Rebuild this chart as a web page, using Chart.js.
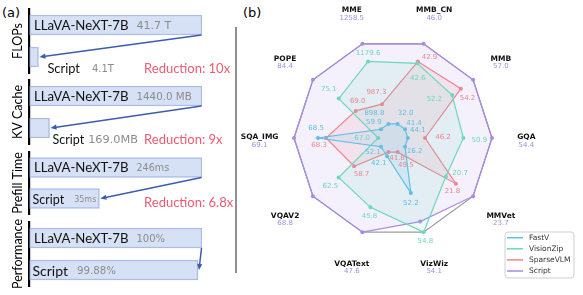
<!DOCTYPE html>
<html><head><meta charset="utf-8">
<script src="https://cdn.jsdelivr.net/npm/chart.js"></script>
<style>
html,body{margin:0;padding:0;background:#fff;}
#wrap{position:relative;width:583px;height:295px;overflow:hidden;background:#fff;}
canvas{position:absolute;}
.pl{position:absolute;font-family:'DejaVu Sans';font-size:13px;line-height:14px;color:#000;}
#divider{position:absolute;left:235px;top:27px;width:2px;height:246px;background:#8f8f8f;}
</style></head>
<body><div id="wrap">
<div class="pl" style="left:2px;top:6px">(a)</div>
<div class="pl" style="left:243px;top:6px">(b)</div>
<div id="divider"></div>
<canvas id="radar" width="343" height="295" style="left:240px;top:0px"></canvas>
</div>
<script>
// ---------- Panel (a) data ----------
const metricNames = ['FLOPs', 'KV Cache', 'Prefill Time', 'Performance'];
const barCategories = ['LLaVA-NeXT-7B', 'Script'];
const baselineBarLength = [100, 100, 100, 100];          // drawn length (schematic, as in picture)
const scriptBarLength = [5.2, 11.6, 40.5, 97.7];          // drawn length (schematic, as in picture)
const baselineValueLabels = ['41.7 T', '1440.0 MB', '246ms', '100%'];
const scriptValueLabels = ['4.1T', '169.0MB', '35ms', '99.88%'];
const reductionLabels = ['Reduction: 10x', 'Reduction: 9x', 'Reduction: 6.8x', ''];

// ---------- Panel (b) data ----------
const radarAxes = ['MME', 'MMB_CN', 'MMB', 'GQA', 'MMVet', 'VizWiz', 'VQAText', 'VQAV2', 'SQA_IMG', 'POPE'];
const seriesNames = ['FastV', 'VisionZip', 'SparseVLM', 'Script'];
const fastV     = [898.8, 32.0, 41.4, 44.1, 16.2, 52.2, 42.1, 52.1, 68.5, 59.9];
const visionZip = [1179.6, 42.6, 52.2, 50.9, 20.7, 54.8, 45.8, 62.5, 67.0, 75.1];
const sparseVLM = [987.3, 42.9, 54.2, 46.2, 21.8, 49.5, 41.8, 58.7, 68.3, 69.0];
const scriptVals = [1258.5, 46.0, 57.0, 54.4, 23.7, 54.1, 47.6, 68.8, 69.1, 84.4];

// ---------- styles ----------
const sectionTop = [9, 80, 152, 222];
const sectionHeight = [64, 64, 62, 64];
const scriptNameSize = [12.8, 12.5, 12.5, 14];
const scriptOutsideGap = [9, 3, 6, 6];
const scriptValueGap = [12, 4, 10, 9];
const baselineValueSize = [11, 10.3, 9.6, 10];
const scriptValueSize = [10, 11.3, 8, 10.2];
const seriesColors = ['#5fbfe6', '#6cd9bb', '#ee8590', '#a68ae6'];
const seriesFills = ['rgba(95,191,230,0.13)', 'rgba(108,217,187,0.12)', 'rgba(238,133,144,0.13)', 'rgba(166,138,230,0.12)'];
const valueLabelOffsets = [
  [[-14,-11],[8,-11],[9,-6.5],[10,-8],[9.6,4.2],[0,10.6],[-8.3,7],[-8,5.5],[-2,-9.7],[-7.2,-7.5]],
  [[0,-8.3],[0.6,15],[-17.7,4],[16,2.4],[14.3,-3.3],[1.7,9],[-1,9.3],[-8.3,8.3],[-16,0],[-10,-9]],
  [[-5.6,-12.3],[11.7,-4.5],[6.6,9.3],[18,-1],[-3.4,7.7],[8.3,13.3],[8.6,6.1],[7.4,8.3],[-7,7.4],[2,-10]]
];

// ---------- mini bar charts ----------
const arrowColor = '#3b5cb0';
const miniPlugin = {
  id: 'mini',
  afterDatasetsDraw(chart, args, opts) {
    const k = opts.index;
    const ctx = chart.ctx;
    const bars = chart.getDatasetMeta(0).data;
    const b1 = bars[0], b2 = bars[1];
    const left = b1.base;
    ctx.save();
    ctx.textBaseline = 'middle'; ctx.textAlign = 'left';
    ctx.font = '13.2px Lato'; ctx.fillStyle = '#111';
    ctx.fillText(barCategories[0], left + 4.5, b1.y + 0.5);
    const w = ctx.measureText(barCategories[0]).width;
    ctx.font = baselineValueSize[k] + 'px "DejaVu Sans"'; ctx.fillStyle = '#8c8c8c';
    ctx.fillText(baselineValueLabels[k], left + 4.5 + w + 8, b1.y + 1);

    ctx.font = scriptNameSize[k] + 'px Lato';
    const sw = ctx.measureText(barCategories[1]).width;
    const inside = sw + 12 < (b2.x - b2.base);
    const sx = inside ? b2.base + 3 : b2.x + scriptOutsideGap[k];
    const sy = inside ? b2.y + 1 : b2.y + b2.height / 2 + 1.5;
    ctx.fillStyle = '#111';
    ctx.fillText(barCategories[1], sx, sy);
    ctx.font = scriptValueSize[k] + 'px "DejaVu Sans"'; ctx.fillStyle = '#8c8c8c';
    ctx.fillText(scriptValueLabels[k], sx + sw + scriptValueGap[k], sy + 0.5);
    if (reductionLabels[k]) {
      ctx.font = '13px Lato'; ctx.fillStyle = '#ef5a72';
      ctx.fillText(reductionLabels[k], chart.scales.x.getPixelForValue(66.4), inside ? b2.y + 4 : sy);
    }
    // arrow
    const x0 = b1.x - 0.5, y0 = b1.y + b1.height / 2;
    const x1 = b2.x + 1, y1 = b2.y;
    const ang = Math.atan2(y1 - y0, x1 - x0);
    ctx.strokeStyle = arrowColor; ctx.fillStyle = arrowColor; ctx.lineWidth = 1.5;
    ctx.beginPath(); ctx.moveTo(x0, y0);
    ctx.lineTo(x1 - 4 * Math.cos(ang), y1 - 4 * Math.sin(ang)); ctx.stroke();
    ctx.beginPath();
    ctx.moveTo(x1, y1);
    ctx.lineTo(x1 - 6 * Math.cos(ang) + 2.6 * Math.sin(ang), y1 - 6 * Math.sin(ang) - 2.6 * Math.cos(ang));
    ctx.lineTo(x1 - 6 * Math.cos(ang) - 2.6 * Math.sin(ang), y1 - 6 * Math.sin(ang) + 2.6 * Math.cos(ang));
    ctx.closePath(); ctx.fill();
    ctx.restore();
  }
};

const wrap = document.getElementById('wrap');
metricNames.forEach((name, k) => {
  const cv = document.createElement('canvas');
  cv.width = 237; cv.height = sectionHeight[k] + 16;
  cv.style.left = '0px'; cv.style.top = (sectionTop[k] - 8) + 'px';
  wrap.appendChild(cv);
  new Chart(cv, {
    type: 'bar',
    data: {
      labels: barCategories,
      datasets: [{
        data: [baselineBarLength[k], scriptBarLength[k]],
        backgroundColor: '#d7e1f5', borderColor: '#a9bde8', borderWidth: 1.5,
        barThickness: 20, borderSkipped: false
      }]
    },
    options: {
      indexAxis: 'y', responsive: false, animation: false, devicePixelRatio: 1,
      layout: { padding: { left: 6.5, right: 35, top: 8, bottom: 8 } },
      plugins: { legend: { display: false }, tooltip: { enabled: false }, mini: { index: k } },
      scales: {
        x: { display: false, min: 0, max: 100 },
        y: {
          ticks: { display: false }, grid: { display: false, drawTicks: false },
          border: { display: true, color: '#000', width: 2.2 },
          title: { display: true, text: name, color: '#000', font: { family: 'Lato', size: 12.5 }, padding: { top: 4, bottom: 4 } }
        }
      }
    },
    plugins: [miniPlugin]
  });
});

// ---------- radar ----------
const rawSeries = [fastV, visionZip, sparseVLM, scriptVals];
const mins = radarAxes.map((_, i) => Math.min(...rawSeries.map(s => s[i])));
const maxs = radarAxes.map((_, i) => Math.max(...rawSeries.map(s => s[i])));
const norm = s => s.map((v, i) => 0.15 + 0.85 * (v - mins[i]) / (maxs[i] - mins[i]));

const radarPlugin = {
  id: 'radarLabels',
  afterDatasetsDraw(chart) {
    const ctx = chart.ctx, r = chart.scales.r;
    ctx.save();
    ctx.textAlign = 'center'; ctx.textBaseline = 'middle';
    [0, 1, 2].forEach(di => {
      chart.getDatasetMeta(di).data.forEach((pt, i) => {
        const off = valueLabelOffsets[di][i];
        ctx.font = '7px "DejaVu Sans"'; ctx.fillStyle = seriesColors[di];
        ctx.fillText(rawSeries[di][i].toFixed(1), pt.x + off[0], pt.y + off[1]);
      });
    });
    radarAxes.forEach((name, i) => {
      const p = r.getPointPosition(i, r.drawingArea * 1.347);
      const y = p.y + 3;
      ctx.font = 'bold 7.5px "DejaVu Sans"'; ctx.fillStyle = '#111';
      ctx.fillText(name, p.x, y - 3.8);
      ctx.font = '7px "DejaVu Sans"'; ctx.fillStyle = seriesColors[3];
      ctx.fillText(scriptVals[i].toFixed(1), p.x, y + 3.8);
    });
    // legend
    const lx = 265, ly = 232, lw = 69, lh = 46;
    ctx.beginPath(); ctx.roundRect(lx, ly, lw, lh, 3);
    ctx.fillStyle = 'rgba(255,255,255,0.85)'; ctx.fill();
    ctx.strokeStyle = '#cfcfcf'; ctx.lineWidth = 1; ctx.stroke();
    ctx.textAlign = 'left';
    chart.data.datasets.forEach((ds, i) => {
      const y = ly + 5.7 + i * 11.1;
      ctx.strokeStyle = ds.borderColor; ctx.lineWidth = 1.5;
      ctx.beginPath(); ctx.moveTo(lx + 2, y); ctx.lineTo(lx + 18, y); ctx.stroke();
      ctx.font = '7.5px "DejaVu Sans"'; ctx.fillStyle = '#333';
      ctx.fillText(ds.label, lx + 24, y + 0.5);
    });
    ctx.restore();
  }
};

new Chart(document.getElementById('radar'), {
  type: 'radar',
  data: {
    labels: radarAxes,
    datasets: rawSeries.map((s, i) => ({
      label: seriesNames[i], data: norm(s), fill: true,
      borderColor: seriesColors[i], backgroundColor: seriesFills[i],
      pointBackgroundColor: seriesColors[i], pointBorderWidth: 0, pointRadius: 2, borderWidth: 1.2
    }))
  },
  options: {
    responsive: false, animation: false, devicePixelRatio: 1,
    layout: { padding: { left: 54, right: 90, top: 38.5, bottom: 57.5 } },
    plugins: { legend: { display: false }, tooltip: { enabled: false } },
    scales: {
      r: {
        min: 0, max: 1, startAngle: -18,
        ticks: { display: false, stepSize: 1 },
        pointLabels: { display: false },
        angleLines: { display: false },
        grid: { color: '#9a9a9a', lineWidth: 1.3 }
      }
    }
  },
  plugins: [radarPlugin]
});
</script>
</body></html>
